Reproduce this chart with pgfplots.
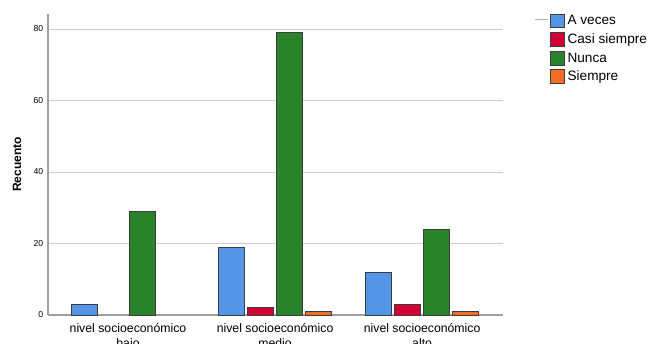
\documentclass[border=0pt]{standalone}
\usepackage{pgfplots}
\pgfplotsset{compat=1.18}
\usepackage{fontspec}
\setmainfont{Liberation Sans}
\definecolor{cblue}{RGB}{85,150,230}
\definecolor{cred}{RGB}{210,0,52}
\definecolor{cgreen}{RGB}{42,130,42}
\definecolor{corange}{RGB}{240,110,40}
\definecolor{axgray}{RGB}{160,160,160}
\definecolor{edge}{RGB}{60,60,60}
\begin{document}
\begin{tikzpicture}
\begin{axis}[
  name=ax,
  scale only axis,
  width=341.25pt, height=225.75pt,
  ybar=2.25pt, bar width=19.5pt,
  xmin=-0.544, xmax=2.55,
  ymin=0, ymax=84.2,
  xtick={0,1,2},
  xticklabels={{nivel socioeconómico\\bajo},{nivel socioeconómico\\medio},{nivel socioeconómico\\alto}},
  xticklabel style={align=center, font=\fontsize{9.2}{11.5}\selectfont, yshift=-2.5pt},
  ytick={0,20,40,60,80},
  yticklabel style={font=\fontsize{6.5}{7}\selectfont},
  /pgf/number format/assume math mode=true,
  major tick length=0pt,
  axis lines=left,
  axis line style={axgray, line width=0.9pt, -},
  ymajorgrids, grid style={line width=0.6pt, gray!40},
  ylabel={\textbf{Recuento}},
  ylabel style={font=\fontsize{9}{11}\selectfont, at={(axis description cs:-0.068,0.5)}, anchor=center},
  legend style={draw=none, fill=none, at={(rel axis cs:1,1)}, anchor=north west, xshift=35.25pt, yshift=1pt,
    font=\fontsize{10.2}{12}\selectfont, row sep=1.2pt, inner sep=0pt},
  legend cell align=left,
  legend image code/.code={\draw[#1, draw=edge, line width=0.5pt] (0pt,-4.9pt) rectangle (10.5pt,5.3pt);},
  every axis plot/.append style={draw=edge, line width=0.6pt},
  clip=false,
]
\addplot[fill=cblue] coordinates {(0,3) (1,19) (2,12)};
\addplot[fill=cred] coordinates {(1,2) (2,3)};
\addplot[fill=cgreen] coordinates {(0,29) (1,79) (2,24)};
\addplot[fill=corange] coordinates {(1,1) (2,1)};
\legend{A veces, Casi siempre, Nunca, Siempre}
\end{axis}
\draw[gray!60, line width=0.6pt] ([xshift=365.25pt, yshift=222pt]ax.south west) -- ++(9.75pt,0);
\pgfresetboundingbox
\path[use as bounding box] ([xshift=-36pt,yshift=-21pt]ax.south west) rectangle ([xshift=450.75pt,yshift=236.25pt]ax.south west);
\end{tikzpicture}
\end{document}
